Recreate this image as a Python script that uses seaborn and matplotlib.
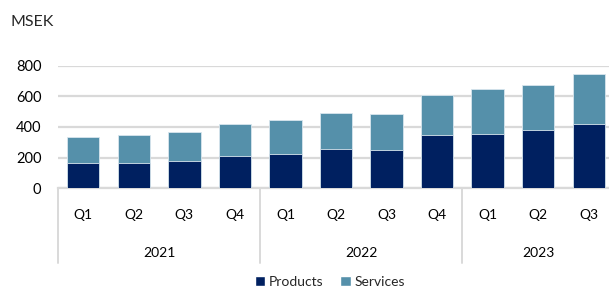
import matplotlib
matplotlib.use("Agg")
import matplotlib.pyplot as plt
from matplotlib.patches import Patch
from matplotlib.lines import Line2D
import matplotlib.transforms as mtransforms
import seaborn as sns
import pandas as pd

# ── Data ──────────────────────────────────────────────────────
years    = ["2021", "2021", "2021", "2021", "2022", "2022", "2022", "2022", "2023", "2023", "2023"]
quarters = ["Q1", "Q2", "Q3", "Q4", "Q1", "Q2", "Q3", "Q4", "Q1", "Q2", "Q3"]
products = [163, 167, 180, 207, 226, 259, 252, 350, 357, 383, 422]
services = [172, 179, 187, 215, 220, 234, 235, 261, 289, 291, 326]
yticks   = [0, 200, 400, 600, 800]

C_PROD = "#002060"
C_SERV = "#5590AA"
GRID   = "#D9D9D9"

df = pd.DataFrame({"Year": years, "Quarter": quarters,
                   "Products": products, "Services": services})
df["Period"] = df["Year"] + " " + df["Quarter"]
df["Total"] = df["Products"] + df["Services"]

sns.set_style("white")
plt.rcParams["font.family"] = ["Lato", "DejaVu Sans"]

fig = plt.figure(figsize=(6.09, 2.89), dpi=100)
ax = fig.add_axes([58 / 609, 101 / 289, 556 / 609, 122 / 289])

# stacked: draw totals (services colour) then products over them
sns.barplot(data=df, x="Period", y="Total", color=C_SERV, saturation=1, width=0.64,
            edgecolor="#d8e6ee", linewidth=0.6, ax=ax, zorder=3)
sns.barplot(data=df, x="Period", y="Products", color=C_PROD, saturation=1, width=0.64,
            edgecolor="#d8e6ee", linewidth=0.6, ax=ax, zorder=4)

ax.set_ylim(0, 800)
ax.set_xlim(-0.5, len(df) - 0.5)
ax.set_yticks(yticks)
ax.set_yticklabels([str(v) for v in yticks], fontsize=10.5, color="#000000")
ax.set_xticks(range(len(df)))
ax.set_xticklabels(df["Quarter"], fontsize=10, color="#000000")
ax.tick_params(axis="x", length=0, pad=15)
ax.tick_params(axis="y", length=0, pad=12)
ax.set_xlabel("")
ax.set_ylabel("")
ax.yaxis.grid(True, color=GRID, linewidth=1.6, zorder=0)
ax.set_axisbelow(True)
for s in ["top", "right", "left"]:
    ax.spines[s].set_visible(False)
ax.spines["bottom"].set_color(GRID)
ax.spines["bottom"].set_linewidth(1.6)

# year group labels and separators
trans = mtransforms.blended_transform_factory(ax.transData, ax.transAxes)
bounds = [-0.5, 3.5, 7.5]
for b in bounds:
    ax.add_line(Line2D([b, b], [0, -0.615], transform=trans, color=GRID,
                       linewidth=1.4, clip_on=False))
groups = df.groupby("Year", sort=False).apply(lambda g: g.index.to_numpy().mean())
for yr, xc in groups.items():
    ax.text(xc, -0.535, yr, transform=trans, ha="center", va="center",
            fontsize=10, color="#000000")

fig.text(10 / 609, 1 - 22 / 289, "MSEK", fontsize=11.5, ha="left", va="center")

handles = [Patch(facecolor=C_PROD, label="Products"),
           Patch(facecolor=C_SERV, label="Services")]
fig.legend(handles=handles, loc="center", bbox_to_anchor=(330 / 609, 1 - 282 / 289),
           ncol=2, frameon=False, fontsize=10, handlelength=0.75, handleheight=0.75,
           handletextpad=0.3, columnspacing=1.2)

fig.savefig("out.png", dpi=100)
